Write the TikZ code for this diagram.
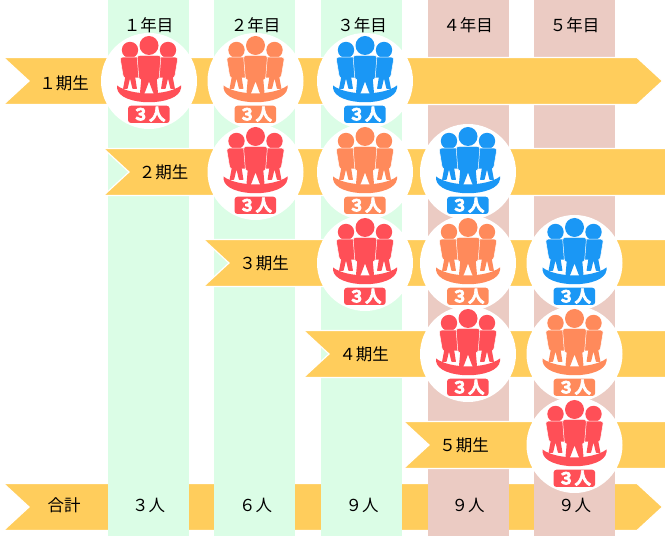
\documentclass[tikz,border=0pt]{standalone}
\usepackage{fontspec}
\newfontfamily\jp{Noto Sans CJK JP}
\newfontfamily\jpb[FakeBold=4]{Noto Sans CJK JP Bold}
\definecolor{barc}{HTML}{FFCD5C}
\definecolor{greenc}{HTML}{DBFDE6}
\definecolor{pinkc}{HTML}{EBCBC3}
\definecolor{redc}{HTML}{FF4F57}
\definecolor{orangec}{HTML}{FF8A5B}
\definecolor{bluec}{HTML}{1A97F5}
\tikzset{
  x=1pt,y=-1pt,
  barshape/.style={fill=barc,draw=white,line width=1.2pt},
  labeltext/.style={font=\jp\fontsize{16.5}{16.5}\selectfont,inner sep=0pt,text=black},
  headtext/.style={labeltext},
  badgetext/.style={font=\jpb\fontsize{16.5}{16.5}\selectfont,text=white,inner sep=0pt},
  personpart/.style={draw=white,line width=0.5pt,rounded corners=2.5pt},
  legpart/.style={rounded corners=0.6pt},
}
% #1 x, #2 y, #3 colour, #4 name
\newcommand\crowdicon[4]{%
  \begin{scope}[shift={(#1,#2)}]
    \node[circle,fill=white,minimum size=96pt,inner sep=0pt] (#4) at (0,0) {};
    \fill[#3] (-19,-31) circle (8.2);
    \fill[#3] (19,-31) circle (8.2);
    % left figure
    \fill[#3,personpart] (-29,-23.8) -- (-8,-23.8) -- (-8,-3) -- (-25.5,-3) -- cycle;
    \fill[#3,legpart] (-23,-8) -- (-26,8) -- (-21.5,8) -- (-19,-2.5) -- (-16.5,8) -- (-12,8) -- (-14.5,-8) -- cycle;
    % right figure
    \fill[#3,personpart] (29,-23.8) -- (8,-23.8) -- (8,-3) -- (25.5,-3) -- cycle;
    \fill[#3,legpart] (23,-8) -- (26,8) -- (21.5,8) -- (19,-2.5) -- (16.5,8) -- (12,8) -- (14.5,-8) -- cycle;
    % central figure
    \fill[#3,personpart] (-12,-25.5) -- (12,-25.5) -- (10,-1) -- (-10,-1) -- cycle;
    \fill[#3,legpart] (-7.5,-5) -- (-9,12) -- (-4.3,12) -- (0,0.5) -- (4.3,12) -- (9,12) -- (7.5,-5) -- cycle;
    \fill[#3] (0,-35.5) circle (9.5);
    \fill[#3] (-32,4.5) .. controls (-18,15) and (18,15) .. (32,4.5) -- (32,7) .. controls (30,26) and (-30,26) .. (-32,7) -- cycle;
    \fill[#3,rounded corners=3pt] (-21,24.7) rectangle (20.7,42);
    \node[badgetext] (#4t) at (0,33.2) {３人};
  \end{scope}}
% #1 left x, #2 centre y
\newcommand\openbar[2]{%
  \draw[barshape] (#1-1.5,#2-23.5) -- (680,#2-23.5) -- (680,#2+23.5) -- (#1-1.5,#2+23.5) -- (#1+24,#2) -- cycle;}
\begin{document}
\begin{tikzpicture}
\useasboundingbox (0,0) rectangle (665,537);
\fill[white] (0,0) rectangle (665,537);
% total bar
\draw[barshape] (3.5,483.5) -- (637,483.5) -- (662.5,507) -- (637,530.5) -- (3.5,530.5) -- (29,507) -- cycle;
% columns
\fill[greenc] (108,0) rectangle (189,536);
\fill[greenc] (214,0) rectangle (295,536);
\fill[greenc] (321,0) rectangle (402,536);
\fill[pinkc] (428,0) rectangle (509,536);
\fill[pinkc] (534,0) rectangle (615,536);
% column headings
\node[headtext] (y1) at (148.5,25) {１年目};
\node[headtext] (y2) at (255.5,25) {２年目};
\node[headtext] (y3) at (362,25) {３年目};
\node[headtext] (y4) at (468,25) {４年目};
\node[headtext] (y5) at (574.5,25) {５年目};
% row 1
\draw[barshape] (3.5,57.5) -- (637,57.5) -- (662.5,81) -- (637,104.5) -- (3.5,104.5) -- (29,81) -- cycle;
\node[labeltext] (r1) at (64,83) {１期生};
\crowdicon{149}{81}{redc}{a11}
\crowdicon{255.5}{81}{orangec}{a12}
\crowdicon{365}{81}{bluec}{a13}
% row 2
\openbar{105}{172}
\node[labeltext] (r2) at (163.5,172) {２期生};
\crowdicon{255.5}{172}{redc}{a22}
\crowdicon{365}{172}{orangec}{a23}
\crowdicon{468}{172}{bluec}{a24}
% row 3
\openbar{205}{263}
\node[labeltext] (r3) at (264,263) {３期生};
\crowdicon{365}{263}{redc}{a33}
\crowdicon{468}{263}{orangec}{a34}
\crowdicon{574.5}{263}{bluec}{a35}
% row 4
\openbar{305}{354}
\node[labeltext] (r4) at (364,354) {４期生};
\crowdicon{468}{354}{redc}{a44}
\crowdicon{574.5}{354}{orangec}{a45}
% row 5
\openbar{405}{445}
\node[labeltext] (r5) at (464,445) {５期生};
\crowdicon{574.5}{445}{redc}{a55}
% totals
\node[labeltext] (tt) at (64,505) {合計};
\node[labeltext] (t1) at (148.5,505) {３人};
\node[labeltext] (t2) at (255.5,505) {６人};
\node[labeltext] (t3) at (362,505) {９人};
\node[labeltext] (t4) at (468,505) {９人};
\node[labeltext] (t5) at (574.5,505) {９人};
\end{tikzpicture}
\end{document}
